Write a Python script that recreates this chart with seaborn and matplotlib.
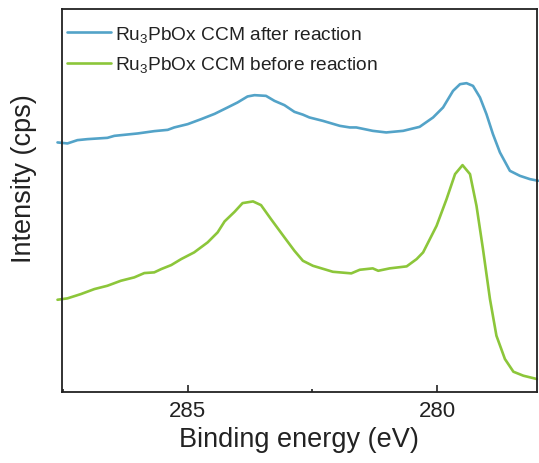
import matplotlib
matplotlib.use("Agg")
import matplotlib.pyplot as plt
import seaborn as sns
import pandas as pd
from matplotlib.ticker import MultipleLocator

# Binding energy (eV) and intensity (a.u.)
after_energy = [287.61, 287.41, 287.21, 287.01, 286.61, 286.47, 286.00, 285.67, 285.40, 285.27,
                285.00, 284.73, 284.46, 284.20, 284.00, 283.80, 283.66, 283.43, 283.26, 283.06,
                282.86, 282.69, 282.56, 282.29, 281.95, 281.75, 281.62, 281.29, 281.02, 280.68,
                280.35, 280.08, 279.88, 279.68, 279.54, 279.41, 279.28, 279.14, 279.01, 278.88,
                278.74, 278.54, 278.34, 278.14, 277.97]
after_int = [249.7, 248.7, 252.0, 253.0, 254.3, 256.3, 258.7, 261.0, 262.3, 264.7,
             268.0, 273.0, 278.3, 284.7, 289.7, 295.7, 297.0, 296.3, 291.3, 287.0,
             280.3, 277.5, 274.7, 271.3, 266.3, 264.7, 264.7, 261.3, 259.7, 261.3,
             265.3, 274.7, 284.7, 301.3, 308.0, 309.0, 306.3, 294.7, 278.0, 258.0,
             239.7, 221.3, 216.3, 213.0, 211.3]

before_energy = [287.61, 287.41, 287.14, 286.87, 286.61, 286.34, 286.07, 285.87, 285.67, 285.53,
                 285.33, 285.13, 284.87, 284.60, 284.40, 284.26, 284.06, 283.90, 283.69, 283.53,
                 283.33, 283.06, 282.96, 282.86, 282.69, 282.49, 282.09, 281.72, 281.55, 281.29,
                 281.18, 280.95, 280.61, 280.41, 280.28, 280.01, 279.81, 279.64, 279.49, 279.34,
                 279.21, 279.08, 278.94, 278.81, 278.64, 278.47, 278.27, 278.00]
before_int = [92.3, 93.7, 98.0, 103.0, 106.3, 111.3, 114.7, 119.0, 119.7, 123.0,
              127.0, 133.0, 139.7, 149.7, 159.7, 170.7, 180.3, 189.0, 190.7, 187.0,
              173.0, 154.7, 148.0, 141.3, 131.3, 126.3, 120.3, 118.7, 122.3, 123.7,
              121.3, 123.7, 125.7, 133.0, 139.7, 166.3, 193.0, 218.0, 227.0, 218.0,
              186.3, 143.0, 93.0, 56.3, 33.0, 20.3, 16.3, 13.0]

labels = [r"Ru$_{3}$PbOx CCM after reaction", r"Ru$_{3}$PbOx CCM before reaction"]
colors = ["#53a3c8", "#8cc63a"]
x_ticks = [285, 280]

df = pd.concat([
    pd.DataFrame({"energy": after_energy, "intensity": after_int, "sample": labels[0]}),
    pd.DataFrame({"energy": before_energy, "intensity": before_int, "sample": labels[1]}),
], ignore_index=True)

sns.set_style("ticks")
plt.rcParams["font.family"] = ["Liberation Sans", "DejaVu Sans"]
plt.rcParams["mathtext.fontset"] = "custom"
plt.rcParams["mathtext.rm"] = "Liberation Sans"
plt.rcParams["mathtext.it"] = "Liberation Sans"
plt.rcParams["mathtext.default"] = "regular"

fig = plt.figure(figsize=(5.39, 4.64), dpi=100)
ax = fig.add_axes([0.115, 0.153, 0.881, 0.825])

sns.lineplot(data=df, x="energy", y="intensity", hue="sample", hue_order=labels,
             palette=colors, sort=False, estimator=None, linewidth=1.9, ax=ax,
             clip_on=False)

ax.set_xlim(287.52, 278.0)
ax.set_ylim(0, 383)
ax.set_xticks(x_ticks)
ax.xaxis.set_minor_locator(MultipleLocator(2.5))
ax.set_yticks([])
ax.tick_params(axis="x", which="major", direction="in", length=5, width=1.2,
               labelsize=16, pad=6, colors="#222222", labelcolor="#222222")
ax.tick_params(axis="x", which="minor", direction="in", length=2.5, width=1.2, colors="#222222")
for s in ax.spines.values():
    s.set_linewidth(1.3)
    s.set_color("#222222")
    s.set_visible(True)

ax.set_xlabel("Binding energy (eV)", fontsize=19.5, color="#222222", labelpad=3)
ax.set_ylabel("Intensity (cps)", fontsize=19.5, color="#222222")
ax.yaxis.set_label_coords(-0.052, 0.561)

leg = ax.legend(loc="upper left", frameon=False, fontsize=13.8, handlelength=2.3,
                handletextpad=0.2, labelspacing=0.55, borderaxespad=0.0, borderpad=0.0,
                bbox_to_anchor=(0.0105, 0.962))
for line in leg.get_lines():
    line.set_linewidth(1.9)
for t in leg.get_texts():
    t.set_color("#222222")

fig.savefig("out.png", dpi=100)
